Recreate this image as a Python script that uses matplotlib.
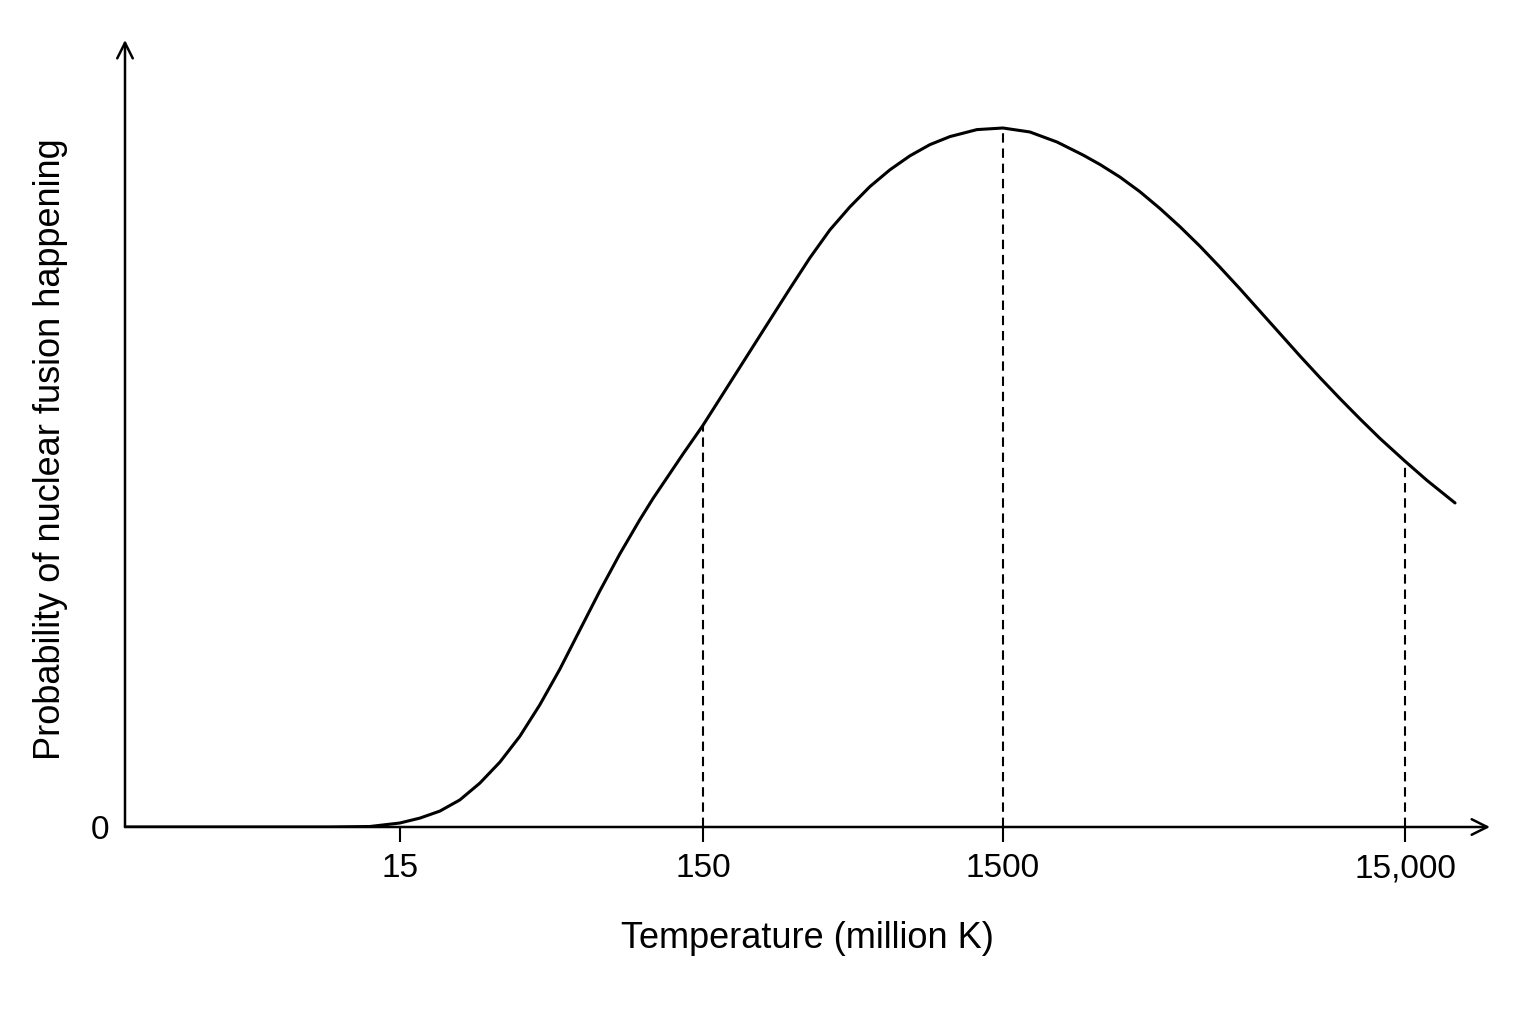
import numpy as np
import matplotlib
matplotlib.use("Agg")
import matplotlib.pyplot as plt

plt.rcParams['font.family'] = ['Liberation Sans', 'DejaVu Sans']

# temperature in million K, probability in arbitrary units (peak = 1)
temperature = [1.86, 4.80, 8.81, 11.94, 15.0, 17.47, 20.33, 23.67, 27.55, 32.08,
               37.34, 43.46, 50.60, 58.90, 68.58, 79.84, 92.94, 102.6, 128.9, 150,
               174.9, 210.2, 250.8, 292.5, 341.0, 397.6, 463.7, 540.6, 630.3, 734.8,
               856.6, 998.7, 1228.7, 1500, 1750.6, 2043.7, 2372, 2615, 2932, 3288,
               3687, 4134, 4636, 5199, 5830, 6537, 7331, 8220, 9218, 10337,
               11592, 12999, 15000, 17014, 19972]
probability = [0.0, 0.0, 0.0, 0.0007, 0.0057, 0.0127, 0.0227, 0.0387, 0.0627, 0.0927,
               0.1297, 0.1747, 0.2257, 0.2817, 0.3377, 0.3907, 0.4397, 0.4696, 0.5334, 0.5744,
               0.6194, 0.6734, 0.7252, 0.7702, 0.8142, 0.8542, 0.8872, 0.9162, 0.9402, 0.9602,
               0.9762, 0.9877, 0.9977, 1.0, 0.9943, 0.98, 0.9614, 0.9478, 0.9298, 0.9088,
               0.8848, 0.8588, 0.8308, 0.8008, 0.7698, 0.7378, 0.7058, 0.6738, 0.6428, 0.6128,
               0.5838, 0.5558, 0.5233, 0.4958, 0.4636]

tick_values = [15, 150, 1500, 15000]
tick_labels = ["15", "150", "1500", "15,000"]
marked = [150, 1500, 15000]

# the sketch's x axis is only roughly logarithmic: decades drawn with unequal widths
knots_log = np.log10(tick_values)
knots_pos = np.array([0.0, 303.0, 603.0, 1005.0])


def forward(t):
    l = np.log10(np.clip(np.asarray(t, dtype=float), 1e-9, None))
    p = np.interp(l, knots_log, knots_pos)
    p = np.where(l < knots_log[0], knots_pos[0] + (l - knots_log[0]) * 303.0, p)
    p = np.where(l > knots_log[-1], knots_pos[-1] + (l - knots_log[-1]) * 402.0, p)
    return p


def inverse(p):
    p = np.asarray(p, dtype=float)
    l = np.interp(p, knots_pos, knots_log)
    l = np.where(p < knots_pos[0], knots_log[0] + (p - knots_pos[0]) / 303.0, l)
    l = np.where(p > knots_pos[-1], knots_log[-1] + (p - knots_pos[-1]) / 402.0, l)
    return 10 ** l


W, H = 1536, 1024
fig = plt.figure(figsize=(W / 100, H / 100), dpi=100)
ax = fig.add_axes([125 / W, 1 - 827 / H, (1490 - 125) / W, (827 - 40) / H])

ax.set_xscale('function', functions=(forward, inverse))
ax.set_xlim(1.86, 24400)
ax.set_ylim(0, 787 / 699)

ax.plot(temperature, probability, color='black', lw=2.2,
        solid_capstyle='round', solid_joinstyle='round')

for t in marked:
    top = probability[temperature.index(t)]
    ax.plot([t, t], [0, top], color='black', lw=1.5, dashes=(4.5, 2.8))

for s in ax.spines.values():
    s.set_visible(False)

arrow = dict(arrowstyle='->', lw=1.8, color='black', mutation_scale=28, shrinkA=0, shrinkB=0)
ax.annotate('', xy=(1, 0), xytext=(0, 0), xycoords='axes fraction', arrowprops=arrow)
ax.annotate('', xy=(0, 1), xytext=(0, 0), xycoords='axes fraction', arrowprops=arrow)

ax.set_xticks(tick_values)
ax.set_xticklabels(tick_labels)
ax.minorticks_off()
ax.tick_params(axis='x', direction='out', length=11, width=1.5, pad=8, labelsize=24)
ax.set_yticks([0])
ax.set_yticklabels(["0"])
ax.tick_params(axis='y', length=0, pad=11, labelsize=24)

ax.set_xlabel("Temperature (million K)", fontsize=26, labelpad=26)
ax.set_ylabel("Probability of nuclear fusion happening", fontsize=26)
ax.yaxis.set_label_coords(-0.042, 0.48)

fig.savefig("out.png", dpi=100)
